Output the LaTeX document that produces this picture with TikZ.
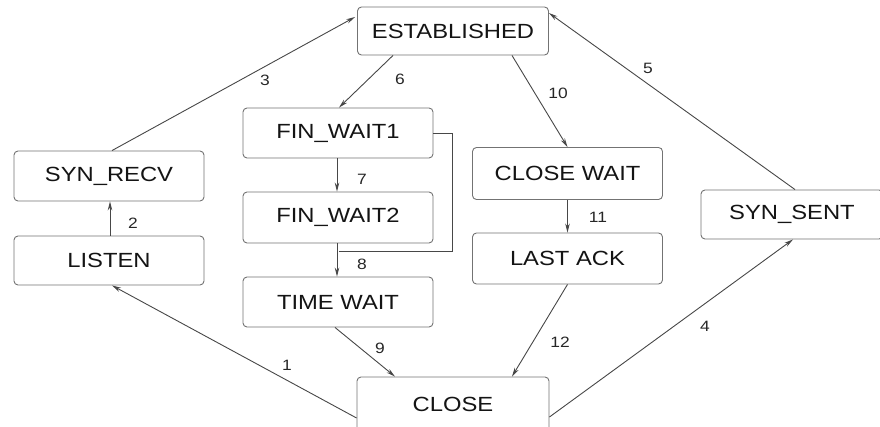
\documentclass[tikz,border=0pt]{standalone}
\usepackage{fontspec}
\setmainfont[FakeStretch=1.16]{Liberation Sans}
\usetikzlibrary{arrows.meta,calc}

\tikzset{
  state/.style={draw=black!55, line width=0.9pt, rounded corners=4pt, fill=white,
    minimum width=190pt, minimum height=50pt, inner sep=0pt,
    text=black!92, font=\fontsize{20.5}{24}\selectfont},
  link/.style={draw=black!72, line width=0.9pt},
  arr/.style={link, -{Stealth[length=9pt,width=4.5pt]}},
  num/.style={text=black!85, font=\fontsize{15}{18}\selectfont, inner sep=0pt}
}

\begin{document}
\begin{tikzpicture}[x=1pt,y=-1pt]
\useasboundingbox (0,0) rectangle (880,427);

% states
\node[state, minimum width=191pt, minimum height=48pt] (est) at (453,31) {ESTABLISHED};
\node[state] (fw1) at (338,133) {FIN\_WAIT1};
\node[state, minimum height=51pt] (fw2) at (338,217.5) {FIN\_WAIT2};
\node[state] (tw) at (338,302) {TIME WAIT};
\node[state] (synrecv) at (109,176) {SYN\_RECV};
\node[state, minimum height=49pt] (listen) at (109,260.5) {LISTEN};
\node[state, minimum height=52pt] (closewait) at (567.5,173.5) {CLOSE WAIT};
\node[state, minimum height=51pt] (lastack) at (567.5,258.5) {LAST ACK};
\node[state, minimum width=182pt, minimum height=49pt] (synsent) at (792,214.5) {SYN\_SENT};
\node[state, minimum width=192pt, minimum height=54pt] (close) at (453,404) {CLOSE};

% transitions
\draw[arr] ([yshift=-14pt]close.west) -- ([xshift=3pt]listen.south);
\draw[arr] ([xshift=1pt]listen.north) -- ([xshift=1pt]synrecv.south);
\draw[arr] ([xshift=3pt]synrecv.north) -- ([yshift=14pt,xshift=-2pt]est.west);
\draw[arr] ([yshift=-13pt]close.east) -- ([xshift=1pt]synsent.south);
\draw[arr] ([xshift=3pt]synsent.north) -- ([yshift=18pt]est.east);
\draw[arr] ([xshift=-60pt]est.south) -- ([xshift=1pt]fw1.north);
\draw[arr] ([xshift=-1pt]fw1.south) -- ([xshift=-1pt]fw2.north);
\draw[arr] ([xshift=-1pt]fw2.south) -- ([xshift=-1pt]tw.north);
\draw[link] (fw1.east) -- ++(19,0) |- ([xshift=1pt,yshift=-8pt]fw2.south);
\draw[arr] ([xshift=-3pt]tw.south) -- ([xshift=-58pt]close.north);
\draw[arr] ([xshift=59pt]est.south) -- ([xshift=0pt]closewait.north);
\draw[arr] (closewait.south) -- (lastack.north);
\draw[arr] (lastack.south) -- ([xshift=59pt]close.north);

% transition numbers
\node[num] (n1) at (287,365) {1};
\node[num] (n2) at (133,223) {2};
\node[num] (n3) at (265,80) {3};
\node[num] (n4) at (705,326) {4};
\node[num] (n5) at (648,68) {5};
\node[num] (n6) at (400,79) {6};
\node[num] (n7) at (362,179) {7};
\node[num] (n8) at (362,264) {8};
\node[num] (n9) at (380,348) {9};
\node[num] (n10) at (558,93) {10};
\node[num] (n11) at (598,217) {11};
\node[num] (n12) at (560,342) {12};
\end{tikzpicture}
\end{document}
